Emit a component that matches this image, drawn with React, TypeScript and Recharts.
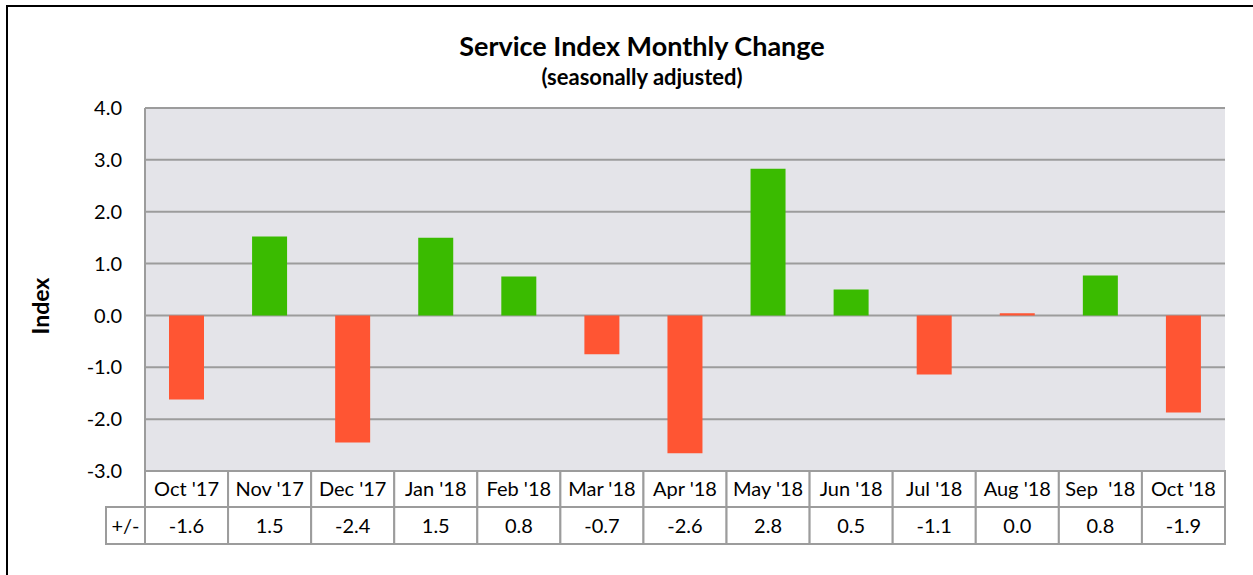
import { BarChart, Bar, XAxis, YAxis, CartesianGrid, Cell } from "recharts";

const months = ["Oct '17", "Nov '17", "Dec '17", "Jan '18", "Feb '18", "Mar '18", "Apr '18", "May '18", "Jun '18", "Jul '18", "Aug '18", "Sep  '18", "Oct '18"];
const changes = [-1.62, 1.52, -2.45, 1.5, 0.75, -0.75, -2.66, 2.83, 0.5, -1.14, 0.04, 0.77, -1.87];
const tableValues = ["-1.6", "1.5", "-2.4", "1.5", "0.8", "-0.7", "-2.6", "2.8", "0.5", "-1.1", "0.0", "0.8", "-1.9"];
const yTicks = [-3, -2, -1, 0, 1, 2, 3, 4];

const W = 1253;
const H = 575;
const M = { top: 108, right: 28, bottom: 31, left: 65 };
const plotW = W - 145 - M.right;
const band = plotW / months.length;
const FONT = "Lato, 'Noto Sans', sans-serif";
const GRID = "#9c9c9c";
const UP = "#3abb00";
const DOWN = "#ff5533";

const data = months.map((m, i) => ({ month: m, change: changes[i], label: tableValues[i] }));

// x axis drawn as the little data table under the plot
function TableTick(props: any) {
  const { x, y, payload, index } = props;
  const left = x - band / 2;
  const rowH = 36;
  return (
    <g>
      <rect x={left} y={y} width={band} height={rowH} fill="#fff" stroke={GRID} strokeWidth={2} />
      <rect x={left} y={y + rowH} width={band} height={rowH + 1} fill="#fff" stroke={GRID} strokeWidth={2} />
      <text x={x} y={y + 25} textAnchor="middle" fontSize={20} fill="#000" style={{ whiteSpace: "pre" }}>
        {payload.value}
      </text>
      <text x={x} y={y + rowH + 26} textAnchor="middle" fontSize={20} fill="#000">
        {tableValues[index]}
      </text>
      {index === 0 && (
        <g>
          <rect x={left - 39} y={y + rowH} width={39} height={rowH + 1} fill="#fff" stroke={GRID} strokeWidth={2} />
          <text x={left - 19.5} y={y + rowH + 26} textAnchor="middle" fontSize={20} fill="#000">
            +/-
          </text>
        </g>
      )}
    </g>
  );
}

export default function App() {
  return (
    <div style={{ position: "absolute", left: 0, top: 0, width: W, height: H, background: "#fff", fontFamily: FONT, overflow: "hidden" }}>
      <div style={{ position: "absolute", left: 6, top: 5, width: W + 20, height: H + 20, borderTop: "2px solid #000", borderLeft: "2px solid #000" }} />
      <BarChart width={W} height={H} data={data} margin={M} barSize={35} style={{ position: "absolute", left: 0, top: 0 }}>
        <text x={642} y={56} textAnchor="middle" fontSize={27} fontWeight={700} fontFamily={FONT}>
          Service Index Monthly Change
        </text>
        <text x={642} y={85} textAnchor="middle" fontSize={22} fontWeight={700} fontFamily={FONT}>
          (seasonally adjusted)
        </text>
        <text x={49} y={306} transform="rotate(-90, 49, 306)" textAnchor="middle" fontSize={23} fontWeight={700} fontFamily={FONT}>
          Index
        </text>
        <CartesianGrid vertical={false} stroke={GRID} strokeWidth={2} fill="#e4e4e9" fillOpacity={1} />
        <XAxis
          dataKey="month"
          axisLine={false}
          tickLine={false}
          tickSize={0}
          tickMargin={0}
          height={73}
          interval={0}
          tick={<TableTick />}
        />
        <YAxis
          domain={[-3, 4]}
          ticks={yTicks}
          width={80}
          axisLine={{ stroke: GRID, strokeWidth: 2 }}
          tickLine={false}
          tickSize={0}
          tickMargin={23}
          tick={{ fill: "#000", fontSize: 20, fontFamily: FONT }}
          tickFormatter={(v: number) => v.toFixed(1)}
        />
        <Bar dataKey="change" isAnimationActive={false}>
          {data.map((d, i) => (
            <Cell key={i} fill={parseFloat(d.label) > 0 ? UP : DOWN} />
          ))}
        </Bar>
      </BarChart>
    </div>
  );
}
